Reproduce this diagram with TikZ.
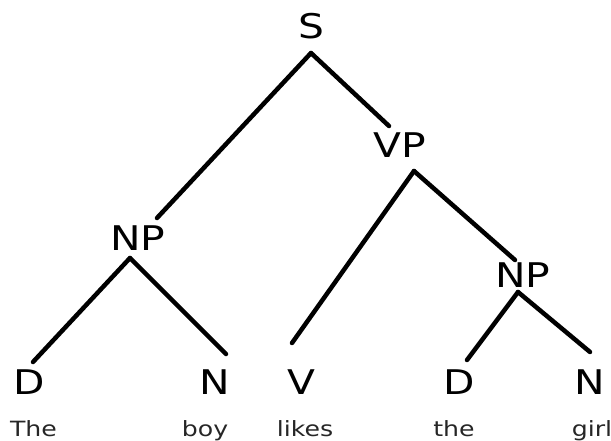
\documentclass[tikz,border=0pt]{standalone}
\usepackage{fontspec}
\newfontfamily\treefont[FakeStretch=1.2]{DejaVu Sans}
\begin{document}
\begin{tikzpicture}[x=1pt,y=-1pt]
    \tikzstyle{cat}=[font=\treefont\fontsize{34}{40}\selectfont,inner sep=0pt,anchor=base];
    \tikzstyle{word}=[font=\treefont\fontsize{21}{25}\selectfont,text=black!85,inner sep=0pt,anchor=base];
    \tikzstyle{branch}=[line width=4.5pt,line cap=round];
    \useasboundingbox (0,0) rectangle (611,440);

    % categories
    \node (s) [cat] at (311.5,38) {S};
    \node (vp) [cat] at (400,157) {VP};
    \node (np1) [cat] at (138,250) {NP};
    \node (np2) [cat] at (523,287) {NP};
    \node (d1) [cat] at (29,394.5) {D};
    \node (n1) [cat] at (215,394.5) {N};
    \node (v) [cat] at (301,394.5) {V};
    \node (d2) [cat] at (459,394.5) {D};
    \node (n2) [cat] at (589.5,394.5) {N};

    % words
    \node (w1) [word] at (33.5,436.5) {The};
    \node (w2) [word] at (205,436.5) {boy};
    \node (w3) [word] at (305,436.5) {likes};
    \node (w4) [word] at (454,436.5) {the};
    \node (w5) [word] at (592,436.5) {girl};

    % branch ends
    \coordinate (s-fork) at (311,53);
    \coordinate (vp-fork) at (414,171);
    \coordinate (np1-fork) at (130,258);
    \coordinate (np2-fork) at (518,292);
    \coordinate (np1-top) at (157,218);
    \coordinate (vp-top) at (389,126);
    \coordinate (v-top) at (292,343);
    \coordinate (np2-top) at (515,260);
    \coordinate (d1-top) at (33,362);
    \coordinate (n1-top) at (226,354);
    \coordinate (d2-top) at (467,360);
    \coordinate (n2-top) at (590,352);

    \foreach \a/\b in {s/np1,s/vp,vp/v,vp/np2,np1/d1,np1/n1,np2/d2,np2/n2}{
        \draw [branch] (\a-fork) -- (\b-top);
    }

\end{tikzpicture}
\end{document}
